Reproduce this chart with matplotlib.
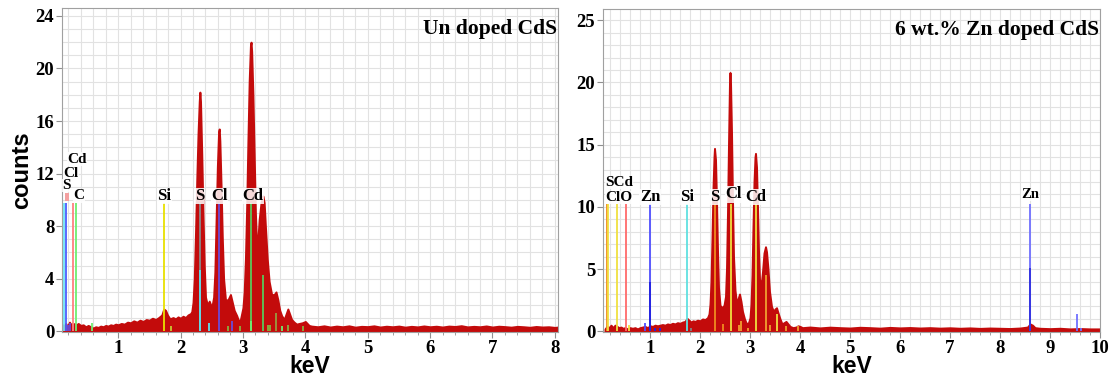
import numpy as np
import matplotlib
matplotlib.use('Agg')
import matplotlib.pyplot as plt
from matplotlib.ticker import MultipleLocator

# ---- spectrum of un doped CdS (keV, counts) ----
e1 = [0.10,0.12,0.14,0.16,0.18,0.20,0.22,0.24,0.26,0.28,0.30,0.33,0.36,0.40,0.44,0.48,0.52,0.56,0.60,0.64,
      0.68,0.72,0.76,0.80,0.84,0.88,0.92,0.96,1.00,1.05,1.10,1.15,1.20,1.25,1.30,1.35,1.40,1.45,1.50,1.55,
      1.60,1.65,1.70,1.73,1.76,1.79,1.83,1.88,1.92,1.96,2.00,2.04,2.08,2.12,2.16,2.18,2.20,2.22,2.24,2.26,
      2.28,2.30,2.31,2.32,2.34,2.36,2.38,2.40,2.43,2.46,2.50,2.53,2.55,2.57,2.59,2.61,2.62,2.63,2.65,2.67,
      2.69,2.72,2.76,2.80,2.83,2.86,2.90,2.93,2.96,3.00,3.02,3.04,3.06,3.08,3.10,3.12,3.13,3.14,3.16,3.18,
      3.20,3.22,3.24,3.26,3.29,3.31,3.32,3.34,3.36,3.39,3.42,3.46,3.50,3.53,3.56,3.59,3.62,3.66,3.69,3.72,
      3.75,3.78,3.82,3.86,3.90,3.95,4.00,4.03,4.06,4.10,4.20,4.30,4.40,4.50,4.60,4.70,4.80,4.90,5.00,5.10,
      5.20,5.30,5.40,5.50,5.60,5.70,5.80,5.90,6.00,6.10,6.20,6.30,6.40,6.50,6.60,6.70,6.80,6.90,7.00,7.10,
      7.20,7.30,7.40,7.50,7.60,7.70,7.80,7.90,8.00,8.05]
c1 = [0.3,0.5,0.3,0.6,0.4,0.5,0.7,0.5,0.6,0.4,0.6,0.5,0.6,0.45,0.5,0.35,0.45,0.35,0.25,0.35,
      0.3,0.4,0.35,0.45,0.4,0.5,0.45,0.55,0.5,0.6,0.55,0.7,0.65,0.8,0.7,0.85,0.75,0.9,0.85,1.0,
      0.9,1.05,1.25,1.7,1.6,1.25,0.95,1.05,0.95,1.1,1.0,1.15,1.05,1.25,1.35,1.5,2.2,4.0,7.5,11.5,
      15.0,17.5,18.2,17.5,13.5,9.0,5.0,2.6,2.0,2.3,1.8,2.6,4.5,8.5,12.5,15.2,15.4,14.5,11.0,7.0,
      4.0,2.4,2.4,2.8,2.2,1.6,1.2,0.8,0.9,1.8,3.0,5.5,9.5,14.5,19.0,21.7,22.0,21.3,18.0,13.5,
      9.0,6.5,7.0,8.5,9.8,10.2,10.3,9.8,8.0,5.5,3.8,2.8,2.8,3.0,2.4,1.6,1.2,0.9,1.3,1.7,
      1.3,0.9,0.7,0.55,0.6,0.65,0.75,0.6,0.45,0.4,0.35,0.42,0.33,0.4,0.35,0.42,0.32,0.38,0.36,0.42,
      0.33,0.39,0.35,0.4,0.32,0.38,0.34,0.41,0.35,0.39,0.33,0.4,0.37,0.43,0.34,0.38,0.35,0.41,0.33,0.39,
      0.36,0.32,0.38,0.35,0.31,0.37,0.33,0.35,0.3,0.33]

# ---- spectrum of 6 wt.% Zn doped CdS ----
e2 = [0.10,0.14,0.18,0.22,0.26,0.30,0.34,0.38,0.42,0.46,0.50,0.55,0.60,0.65,0.70,0.75,0.80,0.85,0.90,0.95,
      1.00,1.05,1.10,1.15,1.20,1.25,1.30,1.35,1.40,1.45,1.50,1.55,1.60,1.65,1.70,1.74,1.78,1.82,1.86,1.90,
      1.95,2.00,2.05,2.10,2.15,2.18,2.20,2.22,2.24,2.26,2.28,2.29,2.31,2.33,2.35,2.37,2.40,2.44,2.48,2.51,
      2.53,2.55,2.57,2.59,2.60,2.61,2.63,2.65,2.67,2.70,2.73,2.76,2.79,2.82,2.85,2.89,2.93,2.97,3.00,3.02,
      3.04,3.06,3.08,3.10,3.11,3.13,3.15,3.17,3.19,3.22,3.25,3.28,3.31,3.33,3.36,3.39,3.43,3.47,3.50,3.53,
      3.56,3.60,3.64,3.68,3.72,3.76,3.80,3.86,3.92,3.96,4.00,4.05,4.20,4.40,4.60,4.80,5.00,5.20,5.40,5.60,
      5.80,6.00,6.20,6.40,6.60,6.80,7.00,7.20,7.40,7.60,7.80,8.00,8.20,8.40,8.55,8.60,8.65,8.70,8.80,9.00,
      9.20,9.40,9.60,9.80,10.0]
c2 = [0.2,0.4,0.3,0.5,0.3,0.5,0.4,0.3,0.35,0.25,0.3,0.2,0.3,0.25,0.3,0.2,0.3,0.35,0.4,0.3,
      0.45,0.4,0.5,0.45,0.5,0.55,0.5,0.6,0.55,0.65,0.6,0.7,0.65,0.75,0.8,1.05,0.9,0.75,0.85,0.8,
      0.9,0.85,1.0,0.95,1.1,1.4,2.2,4.0,7.5,11.5,14.0,14.7,13.8,10.5,6.5,3.5,2.1,1.9,2.1,2.8,
      5.0,9.5,15.0,20.0,20.8,20.0,16.0,10.5,6.0,3.3,2.3,2.6,3.0,2.4,1.6,1.0,0.6,0.7,1.1,2.2,
      4.5,8.5,12.0,14.0,14.3,13.2,10.0,6.5,4.2,3.6,4.8,6.3,6.8,6.4,5.0,3.2,2.0,1.6,1.8,1.9,
      1.5,1.0,0.6,0.7,0.8,0.6,0.4,0.3,0.35,0.45,0.4,0.3,0.35,0.28,0.34,0.3,0.27,0.33,0.3,0.26,
      0.32,0.28,0.31,0.27,0.3,0.26,0.29,0.25,0.28,0.24,0.27,0.25,0.23,0.27,0.35,0.6,0.5,0.3,0.25,0.22,
      0.25,0.2,0.23,0.2,0.2]

# ---- element marker lines (keV, height, colour) ----
l1_e = [0.14,0.17,0.27,0.33,0.20,0.23,0.58,1.74,1.84,2.31,2.31,2.46,2.62,2.76,2.83,2.96,3.13,3.13,3.32,3.40,3.43,3.53,3.62,3.72,3.96]
l1_h = [9.8,9.8,9.8,9.8,0.5,0.6,0.6,9.8,0.4,9.8,4.7,0.6,9.8,0.4,0.8,0.4,9.8,0.8,4.3,0.5,0.5,1.4,0.4,0.5,0.4]
l1_c = ['#6fe3f2','#4b5dff','#ff7f7f','#70ee70','#6a4bd8','#6a4bd8','#70ee70','#e8e000','#c8c830','#8a8a8a','#5fe0f0','#5fe0f0',
        '#6a4bd8','#8ab040','#6a4bd8','#8ab040','#5ac85a','#70ee70','#5ac85a','#8ab040','#8ab040','#9a9a40','#70ee70','#8ab040','#8ab040']

l2_e = [0.14,0.16,0.34,0.52,0.58,0.90,1.00,1.00,1.10,1.20,1.74,1.82,2.29,2.46,2.62,2.78,2.82,2.96,3.11,3.32,3.40,3.53,3.72,3.96,8.60,8.60,9.54,9.62]
l2_h = [10.2,10.2,10.2,10.2,0.5,0.7,10.2,4.0,0.3,0.3,10.2,0.3,10.2,0.6,10.2,0.5,0.8,0.3,10.2,4.5,0.5,1.4,0.4,0.4,10.2,5.1,1.4,0.3]
l2_c = ['#f08c20','#f0e040','#f0e040','#ff6a6a','#f0e040','#5050ff','#5050ff','#2020e0','#2020e0','#2020e0','#60e0e0','#808080',
        '#f08c20','#f08c20','#f0e040','#f0a030','#f0a030','#f0a030','#f0e040','#f0a030','#f0a030','#f0e040','#f0a030','#f0a030',
        '#7070ff','#3030e0','#7070ff','#7070ff']

# ---- element labels (text, keV, counts, font size) ----
t1 = ['Cd','Cl','S','C','Si','S','Cl','Cd']
t1_e = [0.34,0.24,0.17,0.37,1.74,2.30,2.63,3.16]
t1_y = [13.1,12.0,11.1,10.3,10.3,10.3,10.3,10.3]
t1_s = [11,11,11,11,12,12,12,12]
t2 = ['SCd','ClO','Zn','Si','S','Cl','Cd','Zn']
t2_e = [0.38,0.38,1.0,1.74,2.29,2.67,3.11,8.60]
t2_y = [11.95,10.75,10.8,10.8,10.8,11.0,10.8,11.0]
t2_s = [11,11,12,12,12,12,12,10.5]

red = '#c30b0b'
serif = 'Liberation Serif'

fig = plt.figure(figsize=(11.11, 3.78), dpi=100)
ax1 = fig.add_axes([62/1111, 46/378, 496/1111, 324/378])
ax2 = fig.add_axes([603/1111, 46/378, 497/1111, 323/378])

def panel(ax, e, c, le, lh, lc, tt, te, ty, ts, xlim, ylim, ymaj, title):
    ax.fill_between(e, 0, c, facecolor=red, edgecolor=red, lw=1.4, zorder=2)
    ax.vlines(le, 0, lh, colors=lc, lw=1.3, zorder=3)
    for s, x, y, fs in zip(tt, te, ty, ts):
        ax.text(x, y, s, ha='center', va='center', fontsize=fs, family=serif, fontweight='bold',
                zorder=4, bbox=dict(facecolor='white', edgecolor='none', pad=0.2, alpha=0.85))
    ax.set_xlim(*xlim)
    ax.set_ylim(*ylim)
    ax.xaxis.set_major_locator(MultipleLocator(1))
    ax.xaxis.set_minor_locator(MultipleLocator(0.2))
    ax.yaxis.set_major_locator(MultipleLocator(ymaj))
    ax.yaxis.set_minor_locator(MultipleLocator(1))
    ax.grid(which='both', color='#e2e2e2', lw=0.8, zorder=0)
    ax.set_axisbelow(True)
    for sp in ax.spines.values():
        sp.set_color('#a0a0a0')
    ax.tick_params(which='both', colors='#909090', labelcolor='black', direction='out')
    ax.tick_params(which='major', length=4, pad=1.5)
    ax.tick_params(which='minor', length=2)
    ax.tick_params(axis='y', which='minor', length=0)
    for lab in ax.get_xticklabels() + ax.get_yticklabels():
        lab.set_family(serif)
        lab.set_fontweight('bold')
        lab.set_fontsize(13.5)
    ax.set_xlabel('keV', fontsize=16.5, fontweight='bold', family='Liberation Sans', labelpad=-1)
    ax.text(0.997, 0.967, title, transform=ax.transAxes, ha='right', va='top', fontsize=15.5,
            family=serif, fontweight='bold', zorder=5)

panel(ax1, e1, c1, l1_e, l1_h, l1_c, t1, t1_e, t1_y, t1_s, (0.1, 8.05), (-0.05, 24.6), 4, 'Un doped CdS')
panel(ax2, e2, c2, l2_e, l2_h, l2_c, t2, t2_e, t2_y, t2_s, (0.06, 10.0), (-0.05, 25.9), 5, '6 wt.% Zn doped CdS')

# pink marker box at the low-energy S line
ax1.bar([0.18], [0.55], bottom=[9.95], width=0.07, color='#f4a0a0', zorder=4)

ax1.set_ylabel('counts', fontsize=17, fontweight='bold', family='Liberation Sans', labelpad=2)

fig.savefig('out.png', dpi=100)
